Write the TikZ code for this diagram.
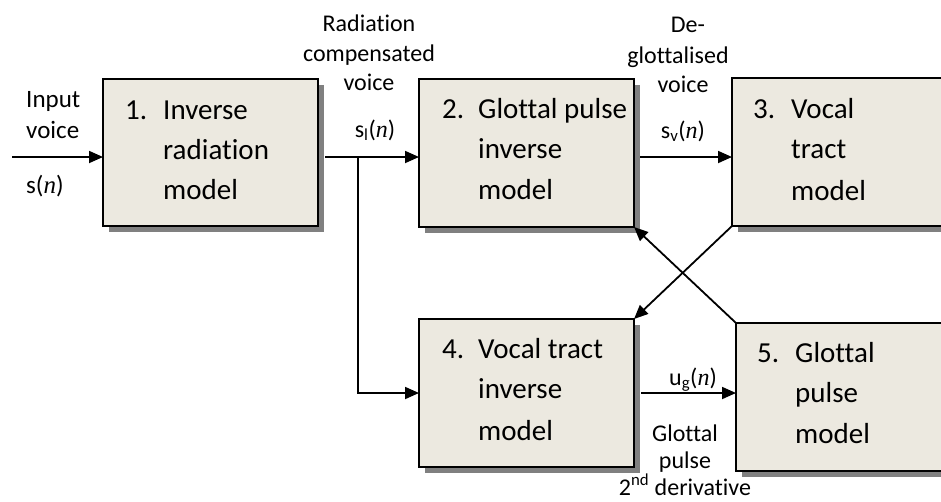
\documentclass[tikz,border=0pt]{standalone}
\usepackage{fontspec}
\setmainfont{Carlito}[Ligatures={NoCommon}]
\newfontfamily\myserif{Liberation Serif}
\usetikzlibrary{arrows.meta,shadows}
\definecolor{boxfill}{RGB}{236,233,224}
\newcommand{\nn}{{\myserif\itshape n}}
\begin{document}
\begin{tikzpicture}[x=1pt,y=-1pt,
  blockbox/.style={draw=black,line width=2.6pt,fill=boxfill,anchor=north west,inner sep=0pt,outer sep=0pt,
    drop shadow={shadow xshift=6pt,shadow yshift=-6pt,opacity=1,fill=black!50}},
  boxtext/.style={anchor=base west,inner sep=0pt,font=\fontsize{29}{35}\selectfont},
  lbl/.style={anchor=base,inner sep=0pt,font=\fontsize{24}{28}\selectfont},
  lblw/.style={anchor=base west,inner sep=0pt,font=\fontsize{25}{29}\selectfont},
  conn/.style={line width=1.8pt,-{Triangle[length=14pt,width=12pt]}},
  plain/.style={line width=1.8pt}]
\clip (0,0) rectangle (941,501);
% boxes
\node[blockbox,minimum width=215pt,minimum height=147pt] (b1) at (103,79) {};
\node[blockbox,minimum width=215pt,minimum height=148pt] (b2) at (419,79) {};
\node[blockbox,minimum width=230pt,minimum height=148pt] (b3) at (732,78) {};
\node[blockbox,minimum width=215pt,minimum height=148pt] (b4) at (419,319) {};
\node[blockbox,minimum width=230pt,minimum height=148pt] (b5) at (736,323) {};
% box texts
\node[boxtext] (t1n) at (125,119) {1.};
\node[boxtext] (t1a) at (163,119) {Inverse};
\node[boxtext] (t1b) at (163,159) {radiation};
\node[boxtext] (t1c) at (163,199) {model};
\node[boxtext] (t2n) at (442,118) {2.};
\node[boxtext] (t2a) at (478,118) {Glottal pulse};
\node[boxtext] (t2b) at (478,158) {inverse};
\node[boxtext] (t2c) at (478,199) {model};
\node[boxtext] (t3n) at (753,118) {3.};
\node[boxtext] (t3a) at (791,118) {Vocal};
\node[boxtext] (t3b) at (791,158) {tract};
\node[boxtext] (t3c) at (791,200) {model};
\node[boxtext] (t4n) at (442,358) {4.};
\node[boxtext] (t4a) at (478,358) {Vocal tract};
\node[boxtext] (t4b) at (478,398) {inverse};
\node[boxtext] (t4c) at (478,440) {model};
\node[boxtext] (t5n) at (757,362) {5.};
\node[boxtext] (t5a) at (795,362) {Glottal};
\node[boxtext] (t5b) at (795,402) {pulse};
\node[boxtext] (t5c) at (795,443) {model};
% labels
\node[lblw] (li1) at (26,107) {Input};
\node[lblw] (li2) at (26,138) {voice};
\node[lblw] (li3) at (26,193) {s(\nn)};
\node[lbl] (lr1) at (369,31) {Radiation};
\node[lbl] (lr2) at (369,61) {compensated};
\node[lbl] (lr3) at (369,90) {voice};
\node[lbl] (lr4) at (375,137) {s\textsubscript{l}(\nn)};
\node[lbl] (ld1) at (688,32) {De-};
\node[lbl] (ld2) at (678,63) {glottalised};
\node[lbl] (ld3) at (683,92) {voice};
\node[lbl] (ld4) at (683,138) {s\textsubscript{v}(\nn)};
\node[lbl] (lu1) at (693,385) {u\textsubscript{g}(\nn)};
\node[lbl] (lg1) at (685,441) {Glottal};
\node[lbl] (lg2) at (685,468) {pulse};
\node[lbl] (lg3) at (685,495) {2\textsuperscript{nd} derivative};
% connectors
\coordinate (in) at (12,157);
\coordinate (br) at (358,157);
\draw[conn] (in) -- (b1.west |- in);
\draw[conn] ([xshift=7pt]b1.east |- br) -- (b2.west |- br);
\draw[conn] (br) |- (b4.west |- 0,393);
\draw[conn] ([xshift=6pt]b2.east |- br) -- (b3.west |- br);
\draw[conn] ([xshift=7pt]b4.east |- 0,393) -- (b5.west |- 0,393);
\draw[conn] (b3.south west) -- (b4.north east);
\draw[conn] (b5.north west) -- (b2.south east);
\end{tikzpicture}
\end{document}
